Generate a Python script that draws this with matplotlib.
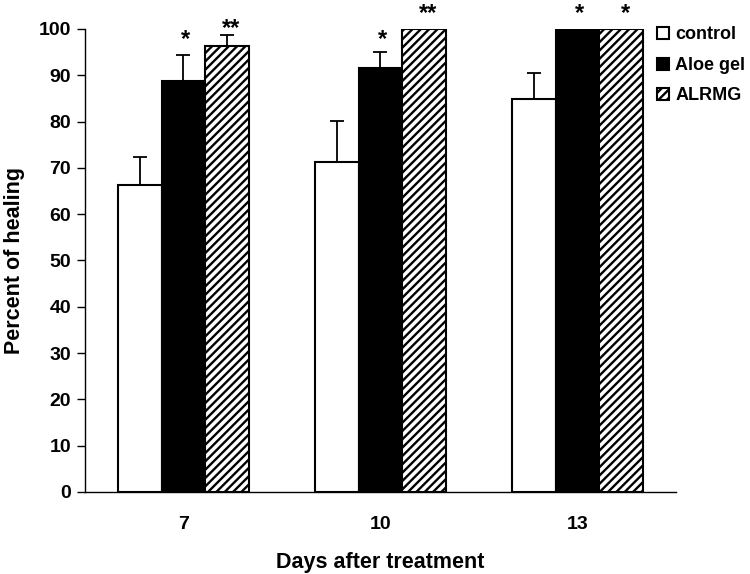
import matplotlib
matplotlib.use("Agg")
import matplotlib.pyplot as plt
import numpy as np

plt.rcParams['font.family'] = ['Liberation Sans', 'DejaVu Sans']
plt.rcParams['font.weight'] = 'bold'
plt.rcParams['hatch.linewidth'] = 1.7

days = ["7", "10", "13"]
series = ["control", "Aloe gel", "ALRMG"]
control = [66.3, 71.2, 84.8]
aloe = [88.8, 91.5, 100.0]
alrmg = [96.4, 100.0, 100.0]
control_err = [6.1, 8.9, 5.6]
aloe_err = [5.5, 3.5, 0.0]
alrmg_err = [2.4, 0.0, 0.0]
aloe_stars = ["*", "*", "*"]
alrmg_stars = ["**", "**", "*"]

fig = plt.figure(figsize=(7.5, 5.74), dpi=100)
ax = fig.add_axes([0.1133, 0.1429, 0.7880, 0.8066])

x = np.arange(len(days))
w = 0.223
vals = [control, aloe, alrmg]
errs = [control_err, aloe_err, alrmg_err]
faces = ['white', 'black', 'white']
hatches = [None, None, '////']
for i, (v, e) in enumerate(zip(vals, errs)):
    pos = x + (i - 1) * w
    ax.bar(pos, v, w, color=faces[i], edgecolor='black', linewidth=1.5,
           hatch=hatches[i], label=series[i], zorder=2)
    e = np.array(e)
    mask = e > 0
    ax.errorbar(pos[mask], np.array(v)[mask], yerr=[np.zeros(mask.sum()), e[mask]],
                fmt='none', ecolor='black', elinewidth=1.3, capsize=5, capthick=1.3, zorder=1)

# star label baselines (data units), placed just above bars / error bars
aloe_star_base = [96.3, 96.3, 101.9]
alrmg_star_base = [98.8, 101.9, 101.9]
for j in range(len(days)):
    ax.text(x[j] + 0.01, aloe_star_base[j], aloe_stars[j], ha='center', va='baseline',
            fontsize=17, fontweight='bold', clip_on=False)
    ax.text(x[j] + w + 0.02, alrmg_star_base[j], alrmg_stars[j], ha='center', va='baseline',
            fontsize=17, fontweight='bold', clip_on=False)

ax.set_xlim(-0.5, 2.5)
ax.set_ylim(0, 100)
ax.set_yticks(range(0, 101, 10))
ax.set_xticks(x)
ax.set_xticklabels(days)
ax.tick_params(axis='x', length=0, pad=17, labelsize=14)
ax.tick_params(axis='y', length=6, width=1, pad=4, labelsize=14)
for t in ax.get_xticklabels() + ax.get_yticklabels():
    t.set_fontweight('bold')
ax.spines['top'].set_visible(False)
ax.spines['right'].set_visible(False)
ax.spines['left'].set_linewidth(1)
ax.spines['bottom'].set_linewidth(1)
ax.set_ylabel("Percent of healing", fontsize=15.5, fontweight='bold', labelpad=10)
ax.set_xlabel("Days after treatment", fontsize=15.5, fontweight='bold', labelpad=14)

leg = fig.legend(loc='upper left', bbox_to_anchor=(0.876, 0.954), frameon=False,
                 borderpad=0, borderaxespad=0,
                 handlelength=0.65, handleheight=0.65, handletextpad=0.35,
                 labelspacing=0.75, prop={'weight': 'bold', 'size': 13})

fig.savefig("out.png", dpi=100)
